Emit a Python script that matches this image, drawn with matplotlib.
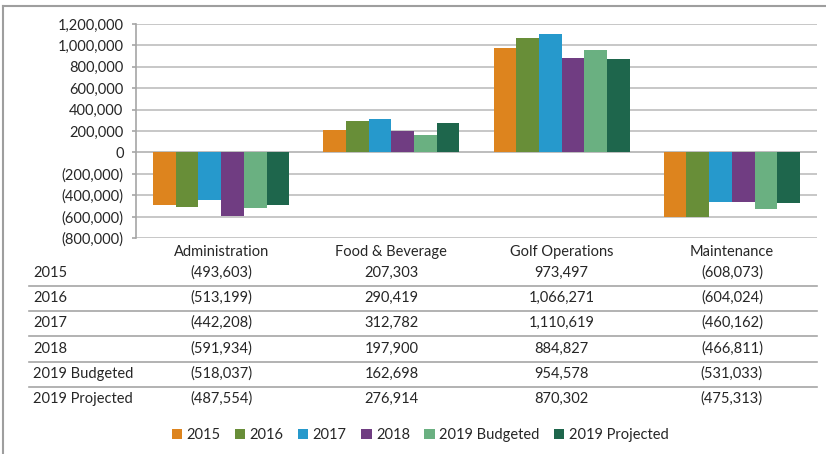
import matplotlib.pyplot as plt
import numpy as np
from matplotlib.ticker import FuncFormatter, MultipleLocator
from matplotlib.transforms import blended_transform_factory
from matplotlib.lines import Line2D
from matplotlib.patches import Patch

plt.rcParams['font.family'] = ['Lato', 'DejaVu Sans']

# categories and series
departments = ['Administration', 'Food & Beverage', 'Golf Operations', 'Maintenance']
series_names = ['2015', '2016', '2017', '2018', '2019 Budgeted', '2019 Projected']

v2015 = [-493603, 207303, 973497, -608073]
v2016 = [-513199, 290419, 1066271, -604024]
v2017 = [-442208, 312782, 1110619, -460162]
v2018 = [-591934, 197900, 884827, -466811]
v2019_budget = [-518037, 162698, 954578, -531033]
v2019_proj = [-487554, 276914, 870302, -475313]

all_series = [v2015, v2016, v2017, v2018, v2019_budget, v2019_proj]
colors = ['#DD841E', '#688E38', '#2699CC', '#703D82', '#6AB081', '#1E664C']


def fmt(v, pos=None):
    if v < 0:
        return f'({abs(v):,.0f})'
    return f'{v:,.0f}'


W, H = 826, 454
fig = plt.figure(figsize=(W / 100, H / 100), dpi=100)

# plot area in pixels: left 136, right 817, top 24, bottom 238
ax = fig.add_axes([136 / W, 1 - 238 / H, (817 - 136) / W, (238 - 24) / H])

x = np.arange(len(departments))
n = len(all_series)
bw = 0.8 / n
for i, (vals, c) in enumerate(zip(all_series, colors)):
    ax.bar(x - 0.4 + bw * (i + 0.5), vals, width=bw, color=c, zorder=3)

ax.set_xlim(-0.5, len(departments) - 0.5)
ax.set_ylim(-800000, 1200000)
ax.yaxis.set_major_locator(MultipleLocator(200000))
ax.yaxis.set_major_formatter(FuncFormatter(fmt))
ax.grid(axis='y', color='#BDBDBD', lw=1.2, zorder=0)
for s in ['top', 'right', 'bottom']:
    ax.spines[s].set_visible(False)
ax.spines['left'].set_color('#A6A6A6')
ax.spines['left'].set_linewidth(1.2)
ax.tick_params(axis='y', length=3, width=1.2, color='#A6A6A6', labelsize=10.5,
               labelcolor='#262626', pad=6)
ax.tick_params(axis='x', length=0, labelsize=10.5, colors='#262626', pad=5)
ax.set_xticks(x)
ax.set_xticklabels(departments)
ax.axhline(0, color='#BDBDBD', lw=1.2, zorder=1)

# data table below the chart
tr = blended_transform_factory(ax.transData, fig.transFigure)
row_y = [273, 298, 323, 349, 374, 399]
for r, (name, vals) in enumerate(zip(series_names, all_series)):
    yf = 1 - row_y[r] / H
    fig.text(33 / W, yf, name, ha='left', va='center', fontsize=10.5, color='#262626')
    for j, v in enumerate(vals):
        fig.text(x[j], yf, fmt(v), transform=tr, ha='center', va='center',
                 fontsize=10.5, color='#262626')
    if r < len(series_names) - 1:
        ly = 1 - (row_y[r] + row_y[r + 1]) / 2 / H
        fig.add_artist(Line2D([29 / W, 817 / W], [ly, ly], color='#A6A6A6', lw=1.2))

# legend
handles = [Patch(facecolor=c, edgecolor='none') for c in colors]
fig.legend(handles, series_names, loc='center', bbox_to_anchor=(420 / W, 1 - 435 / H),
           ncol=6, frameon=False, fontsize=10.5, handlelength=0.7, handleheight=0.7,
           handletextpad=0.3, columnspacing=1.0, labelcolor='#262626')

# outer frame
fig.add_artist(Line2D([3 / W, 1.0], [1 - 6 / H, 1 - 6 / H], color='#9E9E9E', lw=1.5))
fig.add_artist(Line2D([3 / W, 3 / W], [0, 1 - 6 / H], color='#9E9E9E', lw=1.5))

fig.savefig('out.png', dpi=100)
